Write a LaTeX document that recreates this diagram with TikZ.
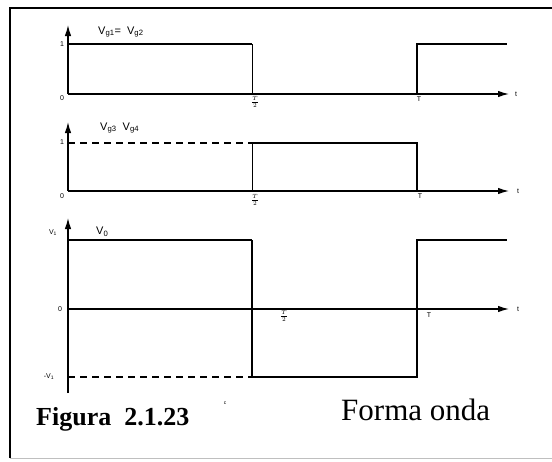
\documentclass[tikz,border=0pt]{standalone}
\usepackage{fontspec}
\setmainfont{Liberation Sans}
\newfontfamily\capfont{Liberation Serif}
\usetikzlibrary{arrows.meta}
\begin{document}
\begin{tikzpicture}[x=1pt,y=-1pt,
  wave/.style={line width=1.8pt,line join=miter},
  axis/.style={line width=1.2pt},
  thin/.style={line width=0.9pt},
  arr/.style={-{Latex[length=11pt,width=6.5pt]}},
  dashline/.style={line width=1.2pt,dash pattern=on 7pt off 5pt},
  lbl/.style={inner sep=0pt,font=\fontsize{7}{7}\selectfont},
  flbl/.style={inner sep=0pt,font=\fontsize{9}{9}\selectfont},
  tlbl/.style={inner sep=0pt,font=\fontsize{11}{11}\selectfont}]
\useasboundingbox (0,0) rectangle (552,461);
% frame
\coordinate (ftl) at (10,8); \coordinate (ftr) at (552,8);
\coordinate (fbl) at (10,458); \coordinate (fbr) at (552,458);
\draw[line width=1.8pt] (ftr) -- (ftl) -- (fbl);
\draw[line width=0.6pt,black!25] (fbl) -- (fbr);
% ---------- plot 1 ----------
\coordinate (o1) at (68,94); \coordinate (y1) at (68,25); \coordinate (x1) at (509,94);
\coordinate (a1) at (68,44); \coordinate (b1) at (252,44); \coordinate (c1) at (252,94);
\coordinate (d1) at (417,94); \coordinate (e1) at (417,44); \coordinate (f1) at (507,44);
\draw[axis,arr] (o1) -- (y1);
\draw[axis,arr] (o1) -- (x1);
\draw[wave] (a1) -- (b1);
\draw[thin] (b1) -- (c1);
\draw[wave] (d1) -- (e1) -- (f1);
\node[tlbl,anchor=west] (n1) at (98,32) {V\textsubscript{g1}=\ \ V\textsubscript{g2}};
\node[lbl] (one1) at (62,44) {1};
\node[lbl] (zero1) at (62,98) {0};
\node[flbl] (half1) at (255,102) {$\frac{T}{2}$};
\node[lbl] (T1) at (419,99) {T};
\node[lbl] (t1) at (516,94) {t};
% ---------- plot 2 ----------
\coordinate (o2) at (68,191); \coordinate (y2) at (68,122); \coordinate (x2) at (509,191);
\coordinate (a2) at (68,143); \coordinate (b2) at (252,143); \coordinate (c2) at (252,191);
\coordinate (e2) at (417,143); \coordinate (d2) at (417,191);
\draw[axis,arr] (o2) -- (y2);
\draw[axis,arr] (o2) -- (x2);
\draw[dashline] (a2) -- (b2);
\draw[thin] (b2) -- (c2);
\draw[wave] (b2) -- (e2) -- (d2);
\node[tlbl,anchor=west] (n2) at (100,128) {V\textsubscript{g3}\ \ V\textsubscript{g4}};
\node[lbl] (one2) at (62,142) {1};
\node[lbl] (zero2) at (62,196) {0};
\node[flbl] (half2) at (255,200) {$\frac{T}{2}$};
\node[lbl] (T2) at (420,196) {T};
\node[lbl] (t2) at (518,191) {t};
% ---------- plot 3 ----------
\coordinate (yb3) at (68,393); \coordinate (y3) at (68,218);
\coordinate (o3) at (68,309); \coordinate (x3) at (509,309);
\coordinate (a3) at (68,240); \coordinate (b3) at (252,240); \coordinate (c3) at (252,377);
\coordinate (d3) at (417,377); \coordinate (e3) at (417,240); \coordinate (f3) at (507,240);
\coordinate (g3) at (68,377);
\draw[axis,arr] (yb3) -- (y3);
\draw[axis,arr] (o3) -- (x3);
\draw[wave] (a3) -- (b3);
\draw[axis] (b3) -- (c3);
\draw[wave] (c3) -- (d3) -- (e3) -- (f3);
\draw[dashline] (g3) -- (c3);
\node[tlbl,anchor=west] (n3) at (96,232) {V\textsubscript{0}};
\node[lbl] (v3) at (53,233) {V\textsubscript{1}};
\node[lbl] (zero3) at (60,309) {0};
\node[lbl] (mv3) at (49,377) {-V\textsubscript{1}};
\node[flbl] (half3) at (284,316) {$\frac{T}{2}$};
\node[lbl] (T3) at (429,315) {T};
\node[lbl] (t3) at (518,309) {t};
% captions
\node[inner sep=0pt,anchor=base west,font=\capfont\bfseries\fontsize{26}{26}\selectfont] (cap) at (36,425) {Figura\ \ 2.1.23};
\node[inner sep=0pt,font=\fontsize{5}{5}\selectfont] (cc) at (225,403) {c};
\node[inner sep=0pt,anchor=base west,font=\capfont\fontsize{31}{31}\selectfont] (fo) at (341,420) {Forma onda};
\end{tikzpicture}
\end{document}
